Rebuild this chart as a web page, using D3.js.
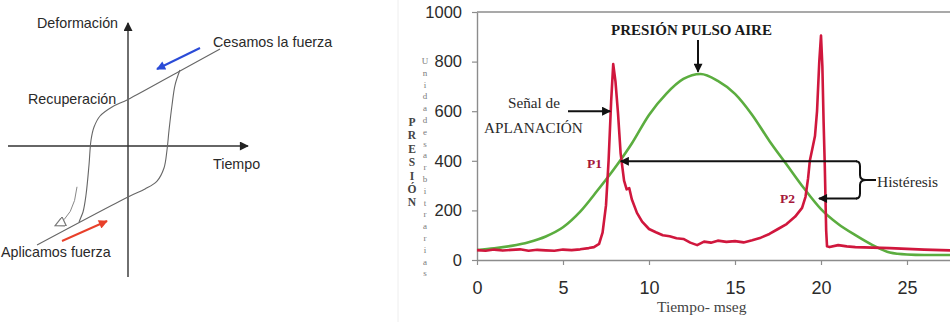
<!DOCTYPE html>
<html>
<head>
<meta charset="utf-8">
<script src="https://cdn.jsdelivr.net/npm/d3@7"></script>
<style>
  body { margin: 0; background: #fff; }
  svg { display: block; }
</style>
</head>
<body>
<div id="chart"></div>
<script>
// ---- left diagram: hysteresis loop (schematic units) ----
var upperBranchX = [7.67, 4.33, 0, -1.33, -2.33, -2.83, -3.08, -3.25, -3.5, -3.75, -4.08];
var upperBranchY = [8.08, 6.25, 3.88, 3.25, 2.5, 1.58, 0.5, -1.58, -4.08, -5.5, -6.33];
var lowerBranchX = [-7.58, 0, 1.42, 2.42, 3.0, 3.25, 3.42, 3.67, 3.92, 4.33];
var lowerBranchY = [-8.25, -4.25, -3.58, -2.92, -1.83, -0.33, 1.33, 3.42, 5.08, 6.33];

// ---- right chart: time (ms) and pressure (arbitrary units) ----
var airTime = [0, 1, 2, 3, 4, 5, 6, 7, 8, 9, 10, 11, 12, 13, 14, 15, 16, 17, 18, 19, 20, 21, 22, 23, 24, 25, 26, 27, 28];
var airPressure = [40, 47, 57, 72, 95, 132, 195, 280, 370, 470, 585, 670, 730, 750, 722, 670, 585, 480, 385, 290, 205, 145, 100, 60, 30, 22, 20, 20, 20];

var signalTime = [0, 0.5, 1, 1.5, 2, 2.5, 3, 3.5, 4, 4.5,
  5, 5.5, 6, 6.5, 6.8, 7.1, 7.3, 7.5, 7.65, 7.8,
  7.92, 8.05, 8.2, 8.35, 8.55, 8.7, 8.85, 9.0, 9.3, 9.6,
  10, 10.4, 10.8, 11.2, 11.6, 12, 12.4, 12.8, 13.2, 13.6,
  14, 14.5, 15, 15.5, 16, 16.5, 17, 17.5, 18, 18.5,
  18.9, 19.1, 19.25, 19.35, 19.5, 19.65, 19.77, 19.9, 20.0, 20.08,
  20.15, 20.22, 20.3, 20.35, 20.5, 21, 21.5, 22, 23, 24,
  25, 26, 27, 28];
var signalValues = [40, 37, 42, 38, 41, 43, 37, 41, 39, 37,
  42, 40, 43, 48, 52, 65, 110, 220, 400, 640,
  790, 720, 590, 430, 320, 285, 290, 245, 190, 155,
  125, 112, 100, 96, 88, 85, 70, 60, 74, 70,
  78, 73, 76, 71, 80, 90, 105, 125, 145, 175,
  210, 255, 330, 400, 450, 500, 600, 800, 905, 780,
  560, 380, 120, 55, 52, 60, 55, 52, 50, 48,
  45, 42, 40, 38];

var yTicks = [0, 200, 400, 600, 800, 1000];
var xTicks = [0, 5, 10, 15, 20, 25];

var width = 950, height = 322;
var sans = "'Liberation Sans', Arial, sans-serif";
var serif = "'Liberation Serif', 'Times New Roman', serif";
var red = "#d0173d", green = "#5bad3f";

var svg = d3.select("#chart").append("svg")
    .attr("width", width)
    .attr("height", height);

// arrow heads
var defs = svg.append("defs");
function addMarker(id, color, hollow) {
    defs.append("marker")
        .attr("id", id)
        .attr("viewBox", "0 0 10 10")
        .attr("refX", 9)
        .attr("refY", 5)
        .attr("markerUnits", "userSpaceOnUse")
        .attr("markerWidth", hollow ? 12 : 11)
        .attr("markerHeight", hollow ? 10 : 9)
        .attr("orient", "auto")
        .append("path")
        .attr("d", "M0,0L10,5L0,10z")
        .attr("fill", hollow ? "#fff" : color)
        .attr("stroke", hollow ? color : "none")
        .attr("stroke-width", hollow ? 1.2 : 0);
}
addMarker("headBlack", "#111");
addMarker("headAxis", "#222");
addMarker("headBlue", "#2a4bd7");
addMarker("headRed", "#e8402a");
addMarker("headHollow", "#777", true);

// ================= left diagram =================
var xL = d3.scaleLinear().domain([-10, 10]).range([8, 248]);
var yL = d3.scaleLinear().domain([-10, 10]).range([266, 26]);
var left = svg.append("g");

// axes
left.append("line")
    .attr("x1", xL(0)).attr("y1", yL(-10.92))
    .attr("x2", xL(0)).attr("y2", yL(10.25))
    .attr("stroke", "#333").attr("stroke-width", 1.4)
    .attr("marker-end", "url(#headAxis)");
left.append("line")
    .attr("x1", xL(-10)).attr("y1", yL(0))
    .attr("x2", xL(10)).attr("y2", yL(0))
    .attr("stroke", "#333").attr("stroke-width", 1.4)
    .attr("marker-end", "url(#headAxis)");

var loopLine = d3.line()
    .x(function (d) { return xL(d[0]); })
    .y(function (d) { return yL(d[1]); })
    .curve(d3.curveCatmullRom.alpha(0.5));

left.append("path")
    .datum(d3.zip(upperBranchX, upperBranchY))
    .attr("d", loopLine)
    .attr("fill", "none").attr("stroke", "#666").attr("stroke-width", 1.1);
left.append("path")
    .datum(d3.zip(lowerBranchX, lowerBranchY))
    .attr("d", loopLine)
    .attr("fill", "none").attr("stroke", "#666").attr("stroke-width", 1.1);

// hollow return arrow
left.append("path")
    .attr("d", "M" + xL(-4.25) + "," + yL(-3.4) + "Q" + xL(-4.5) + "," + yL(-5.9) + " " + xL(-6.0) + "," + yL(-6.6))
    .attr("fill", "none").attr("stroke", "#888").attr("stroke-width", 1)
    .attr("marker-end", "url(#headHollow)");

// blue and red arrows
left.append("line")
    .attr("x1", 200).attr("y1", 48).attr("x2", 157).attr("y2", 69)
    .attr("stroke", "#2a4bd7").attr("stroke-width", 2)
    .attr("marker-end", "url(#headBlue)");
left.append("line")
    .attr("x1", 62).attr("y1", 241).attr("x2", 107).attr("y2", 221)
    .attr("stroke", "#e8402a").attr("stroke-width", 2)
    .attr("marker-end", "url(#headRed)");

var leftLabels = [
    { t: "Deformación", x: 37, y: 28, a: "start" },
    { t: "Cesamos la fuerza", x: 213, y: 47, a: "start" },
    { t: "Recuperación", x: 28, y: 104, a: "start" },
    { t: "Tiempo", x: 213, y: 169, a: "start" },
    { t: "Aplicamos fuerza", x: 1, y: 257, a: "start" }
];
left.selectAll("text.lbl")
    .data(leftLabels)
    .enter().append("text")
    .attr("class", "lbl")
    .attr("x", function (d) { return d.x; })
    .attr("y", function (d) { return d.y; })
    .attr("text-anchor", function (d) { return d.a; })
    .style("font-family", sans)
    .style("font-size", "14.3px")
    .style("fill", "#2a2a2a")
    .text(function (d) { return d.t; });

// ================= right chart =================
var x = d3.scaleLinear().domain([0, 27.5]).range([477, 950]);
var y = d3.scaleLinear().domain([0, 1000]).range([260, 12]);
var right = svg.append("g");

// faint border of the original figure
right.append("line")
    .attr("x1", 398).attr("y1", 0).attr("x2", 398).attr("y2", height)
    .attr("stroke", "#eeeeee").attr("stroke-width", 1);

// top frame
right.append("line")
    .attr("x1", x(0)).attr("y1", y(1000))
    .attr("x2", x(27.5)).attr("y2", y(1000))
    .attr("stroke", "#8c8c8c").attr("stroke-width", 1.4);

var yAxis = right.append("g")
    .attr("transform", "translate(" + x(0) + ",0)")
    .call(d3.axisLeft(y).tickValues(yTicks).tickFormat(d3.format("d"))
        .tickSize(5).tickSizeOuter(0).tickPadding(10));
var xAxis = right.append("g")
    .attr("transform", "translate(0," + y(0) + ")")
    .call(d3.axisBottom(x).tickValues(xTicks).tickSize(5).tickSizeOuter(0).tickPadding(16));

[yAxis, xAxis].forEach(function (g) {
    g.select(".domain").attr("stroke", "#8c8c8c").attr("stroke-width", 1.4);
    g.selectAll(".tick line").attr("stroke", "#8c8c8c").attr("stroke-width", 1.2);
    g.selectAll(".tick text")
        .style("font-family", sans)
        .style("fill", "#2b2b2b");
});
yAxis.selectAll(".tick text").style("font-size", "16.5px");
xAxis.selectAll(".tick text").style("font-size", "18px");

// curves
var airLine = d3.line()
    .x(function (d) { return x(d[0]); })
    .y(function (d) { return y(d[1]); })
    .curve(d3.curveMonotoneX);
var signalLine = d3.line()
    .x(function (d) { return x(d[0]); })
    .y(function (d) { return y(d[1]); });

right.append("path")
    .datum(d3.zip(airTime, airPressure))
    .attr("d", airLine)
    .attr("fill", "none").attr("stroke", green).attr("stroke-width", 2.6);
right.append("path")
    .datum(d3.zip(signalTime, signalValues))
    .attr("d", signalLine)
    .attr("fill", "none").attr("stroke", red).attr("stroke-width", 2.6)
    .attr("stroke-linejoin", "round");

// annotations
function arrow(x1, y1, x2, y2) {
    right.append("line")
        .attr("x1", x1).attr("y1", y1).attr("x2", x2).attr("y2", y2)
        .attr("stroke", "#111").attr("stroke-width", 2)
        .attr("marker-end", "url(#headBlack)");
}
arrow(x(12.85), 40, x(12.85), y(755) - 1);        // PRESIÓN PULSO AIRE
arrow(568, y(600), x(7.8) - 1, y(600));          // Señal de APLANACIÓN
arrow(857, y(398), x(8.36), y(398));             // P1
arrow(857, y(248), x(19.88), y(248));            // P2

// brace for histéresis
var bx = 860, bTop = y(398), bBot = y(248), bMid = (bTop + bBot) / 2;
right.append("path")
    .attr("d", "M" + (bx - 4) + "," + bTop +
        "Q" + bx + "," + bTop + " " + bx + "," + (bTop + 5) +
        "L" + bx + "," + (bMid - 5) +
        "Q" + bx + "," + bMid + " " + (bx + 6) + "," + bMid +
        "Q" + bx + "," + bMid + " " + bx + "," + (bMid + 5) +
        "L" + bx + "," + (bBot - 5) +
        "Q" + bx + "," + bBot + " " + (bx - 4) + "," + bBot +
        "M" + (bx + 6) + "," + bMid + "L" + (bx + 16) + "," + bMid)
    .attr("fill", "none").attr("stroke", "#111").attr("stroke-width", 2);

var serifLabels = [
    { t: "PRESIÓN PULSO AIRE", x: 691.5, y: 35, a: "middle", w: "bold", s: 15, c: "#1a1a1a" },
    { t: "Señal de", x: 508, y: 108, a: "start", w: "normal", s: 15.2, c: "#2a2a2a" },
    { t: "APLANACIÓN", x: 484, y: 133, a: "start", w: "normal", s: 15.2, c: "#2a2a2a" },
    { t: "P1", x: 587, y: 168, a: "start", w: "bold", s: 13.5, c: "#a5173a" },
    { t: "P2", x: 780, y: 203, a: "start", w: "bold", s: 13.5, c: "#a5173a" },
    { t: "Histéresis", x: 877, y: 187, a: "start", w: "normal", s: 15.5, c: "#2a2a2a" },
    { t: "Tiempo- mseg", x: 657, y: 312, a: "start", w: "normal", s: 15.5, c: "#444" }
];
right.selectAll("text.ann")
    .data(serifLabels)
    .enter().append("text")
    .attr("class", "ann")
    .attr("x", function (d) { return d.x; })
    .attr("y", function (d) { return d.y; })
    .attr("text-anchor", function (d) { return d.a; })
    .style("font-family", serif)
    .style("font-weight", function (d) { return d.w; })
    .style("font-size", function (d) { return d.s + "px"; })
    .style("fill", function (d) { return d.c; })
    .text(function (d) { return d.t; });

// stacked y-axis titles
var presion = right.append("text")
    .attr("text-anchor", "middle")
    .style("font-family", serif)
    .style("font-weight", "bold")
    .style("font-size", "11.5px")
    .style("fill", "#444");
"PRESIÓN".split("").forEach(function (ch, i) {
    presion.append("tspan").attr("x", 412).attr("y", 126 + i * 13.4).text(ch);
});
var unidades = right.append("text")
    .attr("text-anchor", "middle")
    .style("font-family", serif)
    .style("font-size", "9px")
    .style("fill", "#7a7a7a");
"Unidadesarbitrarias".split("").forEach(function (ch, i) {
    unidades.append("tspan").attr("x", 425).attr("y", 64 + i * 11.8).text(ch);
});
</script>
</body>
</html>
